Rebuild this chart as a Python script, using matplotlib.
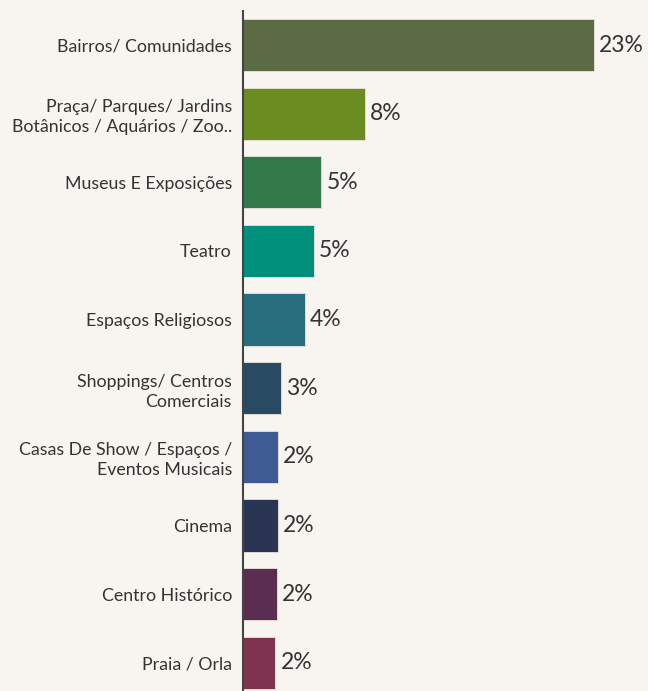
import matplotlib.pyplot as plt
import numpy as np

categories = [
    "Bairros/ Comunidades",
    "Praça/ Parques/ Jardins\nBotânicos / Aquários / Zoo..",
    "Museus E Exposições",
    "Teatro",
    "Espaços Religiosos",
    "Shoppings/ Centros\nComerciais",
    "Casas De Show / Espaços /\nEventos Musicais",
    "Cinema",
    "Centro Histórico",
    "Praia / Orla",
]
shares = [23.0, 8.0, 5.14, 4.63, 4.06, 2.52, 2.31, 2.31, 2.23, 2.12]
colors = [
    "#5b6b43", "#6a8c20", "#327a4a", "#00907c", "#286e7e",
    "#284b63", "#3e5b93", "#2a3453", "#5a2e50", "#80334f",
]

bg = "#f8f4f0"
plt.rcParams["font.family"] = ["Lato", "DejaVu Sans"]

fig = plt.figure(figsize=(6.48, 6.91), dpi=100, facecolor=bg)
ax = fig.add_axes([243 / 648, -0.0087, 1 - 243 / 648, 0.9932], facecolor=bg)

y = np.arange(len(categories))
ax.barh(y, shares, height=0.76, color=colors, edgecolor="#e8e4dc", linewidth=0.6)

for yi, v in zip(y, shares):
    ax.text(v + 0.33, yi, f"{v:.0f}%", va="center", ha="left",
            fontsize=16.5, color="#333333")

ax.set_yticks(y)
ax.set_yticklabels(categories, fontsize=12.8, color="#333333", linespacing=1.3)
ax.tick_params(axis="y", length=0, pad=8)
ax.set_ylim(len(categories) - 0.5, -0.5)
ax.set_xlim(0, 23.0 * (648 - 243) / 351)
ax.set_xticks([])

for s in ["top", "right", "bottom"]:
    ax.spines[s].set_visible(False)
ax.spines["left"].set_color("#444444")
ax.spines["left"].set_linewidth(1.5)

fig.savefig("out.png", dpi=100, facecolor=bg)
